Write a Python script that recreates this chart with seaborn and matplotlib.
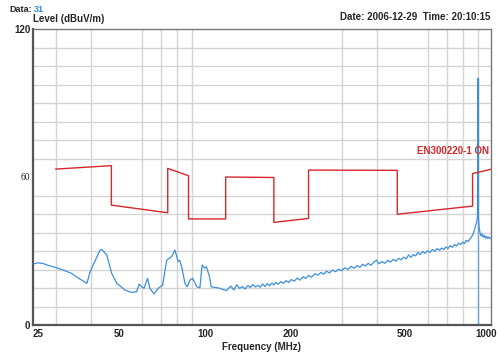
import matplotlib
matplotlib.use("Agg")
import matplotlib.pyplot as plt
import matplotlib.transforms as mtransforms
import seaborn as sns
import pandas as pd
from matplotlib.ticker import FixedLocator, NullFormatter

# ---------------- data ----------------
limit_freq = [30, 47, 47, 74, 74, 87.5, 87.5, 118, 118, 174, 174, 230, 230, 470, 470, 862, 862, 1000]
limit_level = [63.2, 64.6, 48.6, 45.5, 63.5, 60.5, 43.0, 43.0, 60.0, 59.8, 41.6, 43.2, 62.8, 62.7, 44.9, 48.2, 61.4, 63.1]
limit_name = "EN300220-1 ON"

trace_freq = [25, 26, 27.2, 28, 30, 32, 34, 36.5, 38.6, 39.6, 41.2, 42.9, 43.5, 45.3, 47.1, 49.1,
              52.4, 55.3, 57.6, 58.8, 60.0, 61.1, 62.9, 64.1, 66.3, 68.6, 71.0, 73.4, 76.4, 78.4,
              80.5, 81.5, 82.8, 85.0, 86.6, 88.5, 90.5, 93.5, 95.9, 97.6, 99.7, 101, 103.6, 105,
              112.5, 118.6,
              120, 123, 126, 129, 132, 135, 138, 141, 144, 147, 150, 153, 156, 159, 162, 165, 168,
              171, 174, 177, 180, 184, 188, 192, 196, 200, 205, 210, 215, 220, 225, 230, 236, 242,
              248, 254, 260, 266, 272, 279, 286, 293, 300, 308, 316, 324, 332, 340, 348, 356, 364,
              372, 380, 390, 398, 405, 415, 425, 435, 445, 455, 465, 475, 485, 495, 505, 515, 525,
              535, 545, 555, 565, 577, 588, 600, 612, 624, 636, 648, 660, 672, 684, 696, 708, 720,
              732, 745, 758, 770, 783, 796, 808, 820, 832, 845, 856, 866, 875, 884, 892, 897, 900,
              903, 908, 915, 922, 930, 938, 946, 955, 964, 973, 982, 991, 1000]
trace_level = [24.7, 25.2, 24.9, 24.3, 23.3, 22.2, 21.0, 18.6, 16.9, 21.6, 26.0, 30.4, 30.6, 28.4, 21.0, 16.9,
               14.2, 13.2, 13.5, 16.6, 15.5, 14.9, 18.9, 14.9, 12.6, 14.9, 16.2, 26.3, 27.7, 30.4,
               25.7, 26.2, 23.6, 16.9, 15.5, 18.2, 18.9, 15.5, 15.1, 24.3, 23.0, 23.6, 19.6, 15.5,
               14.9, 13.9,
               14.5, 15.8, 14.2, 16.3, 14.8, 15.6, 14.6, 16.0, 15.2, 16.4, 15.4, 16.1, 15.3, 16.6, 15.6, 16.8, 15.9,
               17.0, 16.2, 17.3, 16.5, 17.6, 16.9, 18.0, 17.2, 18.4, 17.8, 19.0, 18.2, 19.6, 18.9, 20.1, 19.4, 20.8,
               20.2, 21.3, 20.6, 21.8, 21.1, 22.3, 21.6, 22.6, 22.0, 23.2, 22.5, 23.8, 23.0, 24.1, 23.4, 24.6, 23.9,
               25.0, 24.2, 25.6, 26.3, 24.8, 25.7, 25.0, 26.2, 25.5, 26.6, 25.9, 27.0, 26.4, 27.5, 26.8, 28.4, 27.4,
               28.6, 28.0, 29.4, 28.5, 29.8, 29.0, 30.1, 29.4, 30.6, 29.9, 31.0, 30.3, 31.2, 30.6, 31.6, 31.0, 32.2,
               31.5, 32.6, 32.0, 33.2, 32.6, 33.6, 33.0, 34.3, 33.8, 35.0, 35.8, 37.0, 38.5, 40.5, 42.0, 44.0, 100.0,
               44.0, 40.0, 37.5, 36.2, 37.0, 35.6, 36.4, 35.2, 36.0, 35.1, 35.7, 35.0, 35.3]

marker_freq = [900]
marker_level = [100]

x_ticks = [25, 50, 100, 200, 500, 1000]
x_ticklabels = ["25", "50", "100", "200", "500", "1000"]
y_ticks = [0, 60, 120]

header_left = "Data:"
header_number = "31"
header_right = "Date: 2006-12-29  Time: 20:10:15"
y_title = "Level (dBuV/m)"
x_title = "Frequency (MHz)"

# ---------------- plot ----------------
sns.set_style("white")
plt.rcParams["font.family"] = ["Liberation Sans", "DejaVu Sans"]

fig = plt.figure(figsize=(4.97, 3.52), dpi=100)
ax = fig.add_axes([33 / 497, 27 / 352, 458 / 497, 296 / 352])

limit_df = pd.DataFrame({"freq": limit_freq, "level": limit_level})
trace_df = pd.DataFrame({"freq": trace_freq, "level": trace_level})

red = "#d8262a"
blue = "#3d8fdc"

ax.vlines(marker_freq, 0, marker_level, color="#6aa9e0", lw=1.0, zorder=2)
sns.lineplot(data=trace_df, x="freq", y="level", ax=ax, sort=False, estimator=None,
             color=blue, lw=0.9, zorder=3)
sns.lineplot(data=limit_df, x="freq", y="level", ax=ax, sort=False, estimator=None,
             color=red, lw=1.0, zorder=4)

ax.set_xscale("log")
ax.set_xlim(25, 1000)
ax.set_ylim(0, 120)

# grid
grid_x = [30, 40, 50, 60, 70, 80, 90, 100, 200, 300, 400, 500, 600, 700, 800, 900]
grid_y = [7.5 * i for i in range(1, 16)]
ax.xaxis.set_major_locator(FixedLocator(x_ticks))
ax.set_xticklabels(x_ticklabels)
ax.xaxis.set_minor_locator(FixedLocator(grid_x))
ax.xaxis.set_minor_formatter(NullFormatter())
ax.yaxis.set_major_locator(FixedLocator(y_ticks))
ax.yaxis.set_minor_locator(FixedLocator(grid_y))
ax.grid(False)
ax.grid(True, which="minor", color="#d4d4d4", lw=1.0)
ax.tick_params(which="both", length=0)
ax.tick_params(axis="x", pad=3, labelsize=7)
ax.tick_params(axis="y", pad=2, labelsize=7)
for lab in ax.get_xticklabels() + ax.get_yticklabels():
    lab.set_fontweight("bold")
for lab in ax.get_yticklabels():
    if lab.get_text() == "60":
        lab.set_fontfamily(["Liberation Serif", "DejaVu Serif"])
        lab.set_fontweight("normal")

# nudge the end labels so they sit inside the figure like the reference
xlabels = ax.get_xticklabels()
xlabels[0].set_transform(xlabels[0].get_transform() +
                         mtransforms.ScaledTranslation(5 / 100, 0, fig.dpi_scale_trans))
xlabels[-1].set_transform(xlabels[-1].get_transform() +
                          mtransforms.ScaledTranslation(-5 / 100, 0, fig.dpi_scale_trans))

ax.set_xlabel(x_title, fontsize=7, fontweight="bold", labelpad=2)
ax.set_ylabel("")

for side in ["left", "bottom"]:
    ax.spines[side].set_color("#555555")
    ax.spines[side].set_linewidth(1.6)
for side in ["top", "right"]:
    ax.spines[side].set_color("#777777")
    ax.spines[side].set_linewidth(1.0)

# texts
ax.text(0.995, 0.588, limit_name, transform=ax.transAxes, ha="right", va="center",
        color=red, fontsize=7, fontweight="bold")
t_data = fig.text(9 / 497, 1 - 9 / 352, header_left, ha="left", va="center",
                  fontsize=6.5, fontweight="bold")
ax.annotate(header_number, xy=(1, 0.5), xycoords=t_data, xytext=(1.5, 0),
            textcoords="offset points", ha="left", va="center", fontsize=6.5,
            fontweight="bold", color="#2f8de0", annotation_clip=False)
fig.text(33 / 497, 1 - 19 / 352, y_title, ha="left", va="center", fontsize=7, fontweight="bold")
fig.text(490 / 497, 1 - 17 / 352, header_right, ha="right", va="center", fontsize=7, fontweight="bold")

fig.savefig("out.png", dpi=100)
